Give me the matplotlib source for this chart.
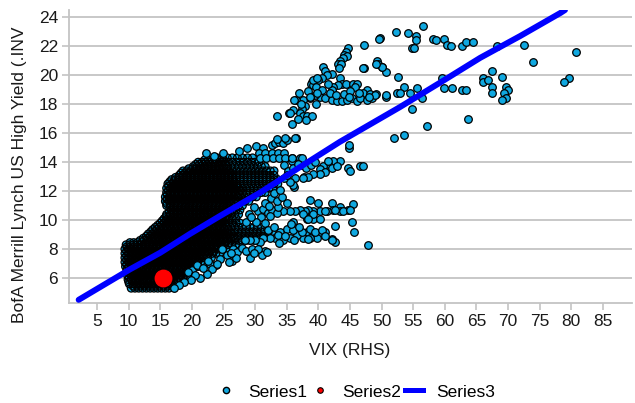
import matplotlib
matplotlib.use("Agg")
import matplotlib.pyplot as plt
from matplotlib.lines import Line2D

plt.rcParams['font.family'] = ['Liberation Sans', 'DejaVu Sans']

# ---- data ----
# dense core of Series1: one y level per row, x values along that row
dense_y = [5.3, 5.6, 5.9, 6.2, 6.5, 6.8, 7.1, 7.4, 7.7, 8.0, 8.3, 8.6, 8.9, 9.2, 9.5,
           9.8, 10.1, 10.4, 10.7, 11.0, 11.3, 11.6, 11.9, 12.2, 12.5, 12.8, 13.1,
           13.4, 13.7, 14.0, 14.3]
dense_x = [
    "10.4 11.0 11.6 12.2 12.8 13.4 14.0 14.6 15.2 15.8 16.4",
    "10.1 10.7 11.3 11.9 12.5 13.1 13.7 14.3 14.9 15.5 16.1 16.7 17.3",
    "9.9 10.4 11.0 11.6 12.2 12.8 13.4 14.0 14.6 15.2 15.8 16.4 17.0 17.6 18.2",
    "9.8 10.4 11.0 11.6 12.2 12.8 13.4 14.0 14.6 15.2 15.8 16.4 17.0 17.6 18.2 18.8 19.3",
    "9.7 10.2 10.8 11.4 12.0 12.6 13.2 13.8 14.4 15.0 15.6 16.2 16.8 17.4 18.0 18.6 19.2 19.8",
    "9.5 10.0 10.6 11.2 11.8 12.4 13.0 13.6 14.2 14.8 15.4 16.0 16.6 17.2 17.8 18.4 19.0 19.6 20.2 20.8",
    "9.4 10.0 10.6 11.2 11.8 12.4 13.0 13.6 14.2 14.8 15.4 16.0 16.6 17.2 17.8 18.4 19.0 19.6 20.2 20.8 21.4 22.0",
    "9.4 9.9 10.5 11.1 11.7 12.3 12.9 13.5 14.1 14.7 15.3 15.9 16.5 17.1 17.7 18.3 18.9 19.5 20.1 20.7 21.3 21.9 22.5 23.1",
    "9.4 10.0 10.6 11.2 11.8 12.4 13.0 13.6 14.2 14.8 15.4 16.0 16.6 17.2 17.8 18.4 19.0 19.6 20.2 20.8 21.4 22.0 22.6 23.2 23.8 24.4",
    "9.4 9.9 10.5 11.1 11.7 12.3 12.9 13.5 14.1 14.7 15.3 15.9 16.5 17.1 17.7 18.3 18.9 19.5 20.1 20.7 21.3 21.9 22.5 23.1 23.7 24.3 24.9 25.5",
    "9.6 10.2 10.8 11.4 12.0 12.6 13.2 13.8 14.4 14.9 15.5 16.1 16.7 17.3 17.9 18.5 19.1 19.7 20.3 20.9 21.5 22.1 22.7 23.3 23.9 24.5 25.1 25.7 26.3 26.9 27.5",
    "11.8 12.4 13.0 13.6 14.2 14.8 15.4 16.0 16.6 17.2 17.8 18.4 19.0 19.6 20.2 20.8 21.4 22.0 22.6 23.2 23.8 24.4 25.0 25.6 26.2 26.8 27.4 28.0 28.6 29.2 29.8 30.4",
    "12.8 13.4 14.0 14.6 15.2 15.8 16.4 17.0 17.6 18.2 18.8 19.4 20.0 20.6 21.2 21.8 22.4 23.0 23.6 24.2 24.8 25.4 26.0 26.6 27.2 27.8 28.4 29.0 29.6 30.2 30.8 31.4 32.0",
    "13.5 14.1 14.7 15.3 15.9 16.5 17.1 17.7 18.3 18.9 19.5 20.1 20.7 21.3 21.9 22.5 23.1 23.7 24.3 24.9 25.5 26.1 26.7 27.3 27.9 28.5 29.1 29.7 30.3 30.9 31.5 32.1 32.7",
    "14.2 14.8 15.4 16.0 16.6 17.2 17.8 18.4 19.0 19.6 20.2 20.8 21.4 22.0 22.6 23.2 23.8 24.4 25.0 25.6 26.2 26.8 27.4 28.0 28.6 29.2 29.8 30.4 31.0",
    "15.0 15.6 16.2 16.8 17.4 18.0 18.6 19.2 19.8 20.4 21.0 21.6 22.2 22.8 23.4 24.0 24.6 25.2 25.8 26.4 27.0 27.6",
    "15.6 16.2 16.8 17.4 18.0 18.6 19.2 19.8 20.4 21.0 21.6 22.2 22.8 23.4 24.0 24.6 25.2 25.8 26.4 27.0",
    "16.0 16.6 17.2 17.8 18.4 19.0 19.6 20.2 20.8 21.4 22.0 22.6 23.2 23.8 24.4 25.0 25.6 26.2 26.8 27.4",
    "16.8 17.4 18.0 18.6 19.2 19.8 20.4 21.0 21.6 22.2 22.8 23.4 24.0 24.6 25.2 25.8 26.4 27.0 27.6",
    "16.0 16.6 17.2 17.8 18.4 19.0 19.6 20.2 20.8 21.4 22.0 22.6 23.2 23.8 24.4 25.0 25.6 26.2 26.8 27.4 28.0",
    "15.8 16.4 17.0 17.6 18.2 18.8 19.4 20.0 20.6 21.2 21.8 22.4 23.0 23.6 24.2 24.8 25.4 26.0 26.6 27.2 27.8 28.4 29.0",
    "15.8 16.4 17.0 17.6 18.2 18.8 19.4 20.0 20.6 21.2 21.8 22.4 23.0 23.6 24.2 24.8 25.4 26.0 26.6 27.2 27.8 28.4 29.0 29.6 30.2",
    "16.0 16.6 17.2 17.8 18.4 19.0 19.6 20.2 20.8 21.4 22.0 22.6 23.2 23.8 24.4 25.0 25.6 26.2 26.8 27.4 28.0 28.6 29.2 29.8 30.4 31.0 31.6",
    "16.0 16.6 17.2 17.8 18.4 19.0 19.6 20.2 20.8 21.4 22.0 22.6 23.2 23.8 24.4 25.0 25.6 26.2 26.8 27.4 28.0 28.6 29.2 29.8 30.4 31.0 31.6 32.2 32.8",
    "16.2 16.8 17.4 18.0 18.6 19.2 19.8 20.4 21.0 21.6 22.2 22.8 23.4 24.0 24.6 25.2 25.8 26.4 27.0 27.6 28.2 28.8 29.4 30.0 30.6 31.2 31.8 32.4 33.0 33.6",
    "16.8 17.4 18.0 18.6 19.2 19.8 20.4 21.0 21.6 22.2 22.8 23.4 24.0 24.6 25.2 25.8 26.4 27.0 27.6 28.2 28.8 29.4 30.0 30.6 31.2 31.8 32.4 33.0 33.6",
    "18.0 18.6 19.2 19.8 20.4 21.0 21.6 22.2 22.8 23.4 24.0 24.6 25.2 25.8 26.4 27.0 27.6 28.2 28.8 29.4 30.0 30.6 31.2 31.8 32.4 33.0",
    "18.6 19.2 19.8 20.4 21.0 21.6 22.2 22.8 23.4 24.0 24.6 25.2 25.8 26.4 27.0 27.6 28.2 28.8 29.4 30.0 30.6 31.2 31.8 32.4 33.0",
    "20.2 20.8 21.4 22.0 22.6 23.2 23.8 24.4 25.0 25.6 26.2 26.8 27.4 28.0 28.6 29.2 29.8 30.4 31.0 31.6",
    "21.0 21.6 22.2 22.8 23.4 24.0 24.6 25.2 25.8 26.4 27.0 27.6 28.2 28.8 29.4 30.0 30.6",
    "24.0 24.8 25.6 26.4 27.2 28.0 28.8 29.6",
]

# in-between rows of the dense core (the cloud is packed tighter on its left side)
mid_y = [5.45, 5.75, 6.05, 6.35, 6.65, 6.95, 7.25, 7.55, 7.85, 8.15, 8.45, 8.75, 9.05,
         9.35, 9.65, 9.95, 10.25, 10.55, 10.85, 11.15, 11.45, 11.75, 12.05, 12.35,
         12.65, 12.95, 13.25, 13.55, 13.85, 14.15]
mid_x = [
    "10.7 11.3 11.9 12.5 13.1 13.7 14.3 14.9 15.5 16.1 16.7",
    "10.0 10.6 11.2 11.8 12.4 13.0 13.6 14.2 14.8 15.4 16.0 16.6 17.2 17.8",
    "10.1 10.7 11.3 11.9 12.5 13.1 13.7 14.3 14.9 15.5 16.1 16.7 17.3 17.9 18.5",
    "10.0 10.6 11.2 11.8 12.4 13.0 13.6 14.2 14.8 15.4 16.0 16.6 17.2 17.8 18.4 19.0",
    "9.8 10.4 11.0 11.6 12.2 12.8 13.4 14.0 14.6 15.2 15.8 16.4 17.0 17.6 18.2 18.8 19.4 20.0",
    "9.7 10.3 10.9 11.5 12.1 12.7 13.3 13.9 14.5 15.1 15.7 16.3 16.9 17.5 18.1 18.7 19.3 19.9 20.5",
    "9.7 10.3 10.9 11.5 12.1 12.7 13.3 13.9 14.5 15.1 15.7 16.3 16.9 17.5 18.1 18.7 19.3 19.9 20.5 21.1",
    "9.7 10.3 10.9 11.5 12.1 12.7 13.3 13.9 14.5 15.1 15.7 16.3 16.9 17.5 18.1 18.7 19.3 19.9 20.5 21.1 21.7 22.3",
    "9.7 10.3 10.9 11.5 12.1 12.7 13.3 13.9 14.5 15.1 15.7 16.3 16.9 17.5 18.1 18.7 19.3 19.9 20.5 21.1 21.7 22.3 22.9 23.5",
    "9.7 10.3 10.9 11.5 12.1 12.7 13.3 13.9 14.5 15.1 15.7 16.3 16.9 17.5 18.1 18.7 19.3 19.9 20.5 21.1 21.7 22.3 22.9 23.5 24.1 24.7",
    "10.2 10.8 11.4 12.1 12.7 13.3 13.9 14.5 15.1 15.7 16.3 16.9 17.5 18.1 18.7 19.3 19.9 20.5 21.1 21.7 22.3 22.9 23.5 24.1 24.7 25.3 25.9",
    "12.3 12.9 13.5 14.1 14.7 15.3 15.9 16.5 17.1 17.7 18.3 18.9 19.5 20.1 20.7 21.3 21.9 22.5 23.1 23.7 24.3 24.9 25.5 26.1 26.7",
    "13.1 13.7 14.3 14.9 15.5 16.1 16.7 17.3 17.9 18.5 19.1 19.7 20.3 20.9 21.5 22.1 22.7 23.3 23.9 24.5 25.1 25.7 26.3",
    "13.8 14.4 15.0 15.6 16.2 16.8 17.4 18.0 18.6 19.2 19.8 20.4 21.0 21.6 22.2 22.8 23.4 24.0 24.6 25.2 25.8",
    "14.6 15.2 15.8 16.4 17.0 17.6 18.2 18.8 19.4 20.0 20.6 21.2 21.8 22.4 23.0 23.6 24.2 24.8 25.4",
    "15.3 15.9 16.5 17.1 17.7 18.3 18.9 19.5 20.1 20.7 21.3 21.9 22.5 23.1 23.7 24.3 24.9",
    "15.9 16.5 17.1 17.7 18.3 18.9 19.5 20.1 20.7 21.3 21.9 22.5 23.1 23.7 24.3 24.9 25.5",
    "16.4 17.0 17.6 18.2 18.8 19.4 20.0 20.6 21.2 21.8 22.4 23.0 23.6 24.2 24.8 25.4 26.0",
    "16.5 17.1 17.7 18.3 18.9 19.5 20.1 20.7 21.3 21.9 22.5 23.1 23.7 24.3 24.9 25.5 26.1",
    "16.0 16.6 17.2 17.8 18.4 19.0 19.6 20.2 20.8 21.4 22.0 22.6 23.2 23.8 24.4 25.0 25.6 26.2",
    "16.1 16.7 17.3 17.9 18.5 19.1 19.7 20.3 20.9 21.5 22.1 22.7 23.3 23.9 24.5 25.1 25.7 26.3 26.9",
    "16.1 16.7 17.3 17.9 18.5 19.1 19.7 20.3 20.9 21.5 22.1 22.7 23.3 23.9 24.5 25.1 25.7 26.3 26.9 27.5",
    "16.3 16.9 17.5 18.1 18.7 19.3 19.9 20.5 21.1 21.7 22.3 22.9 23.5 24.1 24.7 25.3 25.9 26.5 27.1 27.7",
    "16.3 16.9 17.5 18.1 18.7 19.3 19.9 20.5 21.1 21.7 22.3 22.9 23.5 24.1 24.7 25.3 25.9 26.5 27.1",
    "16.5 17.1 17.7 18.3 18.9 19.5 20.1 20.7 21.3 21.9 22.5 23.1 23.7 24.3 24.9 25.5 26.1 26.7",
    "17.4 18.0 18.6 19.2 19.8 20.4 21.0 21.6 22.2 22.8 23.4 24.0 24.6 25.2 25.8 26.4",
    "18.3 18.9 19.5 20.1 20.7 21.3 21.9 22.5 23.1 23.7 24.3 24.9 25.5 26.1",
    "19.5 20.1 20.7 21.3 21.9 22.5 23.1 23.7 24.3 24.9 25.5",
    "20.6 21.2 21.8 22.4 23.0 23.6 24.2 24.8 25.4",
    "22.0 22.6 23.2 23.8 24.4 25.0",
]

# scattered Series1 points (VIX, HY yield)
sparse_pts = [
    # top fringe of the main cloud
    (22.2, 14.6), (23.5, 14.4), (24.9, 14.6), (27.5, 14.8), (28.7, 15.0), (30.2, 15.1),
    (31.3, 15.0), (32.7, 15.2), (33.2, 15.3), (33.8, 15.4), (34.4, 15.3), (35.1, 15.5),
    (36.5, 15.7), (33.5, 15.6), (34.7, 15.7), (36.3, 15.7), (30.6, 14.6), (31.6, 14.6),
    (32.6, 14.6), (33.6, 14.6), (34.6, 14.6), (30.8, 14.3), (31.8, 14.3), (32.8, 14.3),
    (33.8, 14.3), (34.8, 14.3), (35.8, 14.3), (37.1, 14.3), (35.9, 14.1), (37.4, 13.8),
    (37.8, 13.0), (36.2, 12.3),
    # band 12.4-14.1 beyond VIX 34
    (43.4, 14.1), (42.3, 14.1), (41.5, 13.9), (40.8, 13.7), (40.3, 13.5), (41.1, 13.3),
    (42.2, 13.6), (43.0, 13.7), (40.3, 13.2), (39.2, 13.2), (38.4, 13.0), (37.6, 12.9),
    (36.3, 12.9), (36.0, 12.4), (35.5, 12.6), (37.4, 14.3), (35.9, 14.3), (44.7, 13.6),
    (45.0, 13.4), (46.6, 13.7), (44.9, 15.0), (44.9, 15.2), (41.5, 14.1), (34.6, 13.8),
    (35.2, 13.4), (36.0, 13.6), (36.8, 13.9), (38.0, 13.6), (38.8, 13.8), (39.5, 14.0),
    (34.5, 12.9), (35.0, 13.1), (47.1, 13.7),
    # band around 10.5-11
    (38.7, 11.4), (40.0, 11.2), (42.2, 11.2), (43.4, 10.9), (44.7, 10.7), (45.5, 11.1),
    (43.4, 10.6), (42.3, 10.7), (41.4, 10.6), (40.3, 10.6), (39.2, 10.6), (38.4, 10.7),
    (37.9, 10.6), (37.1, 10.7), (36.3, 10.6), (35.5, 10.6), (34.4, 10.6), (38.2, 10.1),
    (39.2, 10.1), (40.3, 10.1), (36.0, 9.9), (45.3, 9.9), (42.7, 9.6), (45.7, 9.2),
    (37.6, 10.4), (39.2, 10.4), (38.4, 10.1), (43.9, 10.6), (42.7, 10.7), (41.1, 10.6),
    (45.0, 10.7), (30.5, 10.6), (31.3, 10.8), (32.0, 10.5), (32.7, 10.7), (33.4, 10.5),
    (31.0, 10.2), (32.4, 10.3), (33.6, 10.9), (29.8, 10.9), (29.0, 10.4), (30.2, 9.9),
    (31.6, 9.8), (28.6, 9.9), (29.4, 10.2), (32.5, 11.5), (33.5, 11.3), (34.3, 11.6),
    (35.0, 11.2), (33.0, 11.9), (34.0, 12.1), (31.5, 11.2), (32.2, 11.0),
    # band around 8.5-9.5
    (38.2, 9.2), (39.2, 9.2), (40.3, 9.1), (41.1, 9.2), (42.2, 8.7), (42.7, 8.5),
    (39.8, 8.8), (38.7, 8.8), (37.6, 8.8), (36.6, 9.0), (35.5, 8.8), (34.4, 8.6),
    (33.2, 8.8), (32.4, 8.8), (31.3, 8.8), (30.8, 8.5), (30.0, 8.6), (29.2, 8.6),
    (28.4, 8.6), (38.7, 9.4), (37.4, 9.2), (39.5, 9.2), (40.6, 9.3), (41.1, 8.9),
    (38.4, 8.7), (42.2, 8.6), (47.9, 8.3), (32.0, 9.3), (33.0, 9.5), (34.0, 9.2),
    (35.0, 9.4), (36.0, 9.3), (33.6, 9.0), (34.8, 8.9), (36.2, 8.6), (37.0, 9.5),
    (35.6, 9.7), (33.8, 8.4),
    # below the main cloud
    (31.6, 7.9), (31.1, 7.6), (29.2, 7.4), (31.9, 7.8), (26.4, 7.2), (25.5, 7.6),
    (24.5, 7.3), (23.8, 6.9), (22.9, 7.0), (23.2, 6.6), (22.4, 6.3), (21.3, 6.0),
    (20.0, 6.55), (19.4, 6.4), (21.0, 6.8), (24.8, 8.0), (26.5, 8.0), (27.2, 7.8),
    (28.0, 8.1), (27.0, 7.4), (25.8, 7.1), (26.2, 7.7), (24.0, 7.0), (28.6, 7.9),
    (29.5, 8.0), (30.5, 8.0), (29.8, 7.7), (20.8, 6.9), (21.8, 6.7), (22.5, 7.2),
    (20.5, 6.2), (19.8, 5.9), (18.8, 5.7), (17.9, 5.5), (17.2, 5.3),
    # high-yield cluster, VIX 33-53
    (49.8, 22.6), (47.2, 22.1), (44.7, 21.9), (44.4, 21.6), (44.1, 21.4), (44.6, 21.3),
    (43.9, 21.2), (43.4, 21.0), (43.1, 20.8), (43.6, 20.8), (43.3, 20.5), (47.2, 20.5),
    (40.8, 20.6), (41.1, 20.3), (42.2, 20.1), (41.4, 20.0), (40.6, 19.8), (40.0, 19.7),
    (39.0, 19.5), (38.9, 19.4), (39.2, 19.3), (43.4, 19.8), (43.8, 19.4), (43.1, 19.3),
    (42.3, 19.2), (42.2, 19.0), (44.4, 19.4), (45.5, 19.4), (46.1, 19.4), (45.8, 19.2),
    (47.7, 19.0), (47.1, 18.8), (48.2, 18.7), (49.1, 18.7), (50.7, 18.5), (49.3, 21.0),
    (49.5, 20.8), (50.1, 20.6), (50.7, 20.2), (52.6, 19.9), (52.5, 18.8), (40.3, 18.5),
    (41.1, 18.4), (42.2, 18.3), (43.0, 18.2), (43.8, 18.2), (44.6, 18.3), (45.3, 18.4),
    (46.1, 18.2), (46.6, 18.4), (47.7, 18.3), (48.5, 18.4), (49.0, 18.6), (39.5, 18.6),
    (38.7, 18.4), (37.6, 18.3), (36.5, 18.3), (37.9, 17.9), (37.4, 17.7), (36.0, 17.6),
    (35.4, 17.4), (37.1, 17.4), (37.6, 17.2), (36.8, 17.0), (38.2, 17.2), (39.0, 17.2),
    (33.5, 17.2), (35.9, 16.6), (36.2, 18.3), (35.5, 17.4), (39.2, 19.7), (39.8, 19.8),
    (39.6, 19.2), (41.8, 18.8), (42.8, 18.6), (44.0, 18.7), (45.0, 18.9), (46.5, 18.8),
    (40.5, 19.0), (38.3, 18.9), (37.0, 18.8), (41.6, 19.4), (44.9, 18.5), (48.0, 18.5),
    (39.6, 18.0), (38.7, 18.5), (39.8, 18.8), (37.3, 18.0), (38.0, 16.9),
    # spread cluster, VIX 47-81
    (56.6, 23.4), (52.3, 23.0), (54.2, 22.9), (55.5, 22.7), (55.5, 22.4), (54.8, 21.9),
    (55.2, 21.9), (49.6, 22.5), (58.2, 22.5), (58.6, 22.4), (59.9, 22.5), (60.4, 22.1),
    (60.9, 22.0), (62.7, 22.0), (63.4, 22.3), (64.5, 22.3), (68.3, 22.0), (72.6, 22.1),
    (74.0, 20.9), (80.8, 21.6), (79.7, 19.8), (78.9, 19.5), (67.5, 20.3), (69.1, 19.9),
    (66.1, 19.8), (66.1, 19.5), (66.9, 19.7), (67.5, 19.2), (67.5, 18.8), (69.7, 19.2),
    (70.0, 19.0), (69.4, 18.8), (69.7, 18.4), (69.1, 18.3), (59.6, 19.8), (59.9, 19.1),
    (61.2, 19.1), (62.7, 19.0), (63.4, 19.0), (63.7, 17.0), (57.2, 16.5), (54.8, 17.7),
    (56.4, 18.4), (55.6, 19.1), (54.5, 18.8), (53.6, 19.2), (52.9, 18.8), (50.1, 20.6),
    (49.1, 20.8), (47.1, 20.5), (50.7, 18.6), (52.0, 15.7), (53.6, 15.9),
]

# Series2: single highlighted point
s2_x = [15.5]
s2_y = [6.0]

# Series3: thick trend line
s3_x = [2.1, 10.2, 15.0, 19.7, 24.5, 30.8, 37.1, 43.4, 52.9, 59.3, 65.6, 71.9, 78.3, 79.0]
s3_y = [4.5, 6.6, 7.75, 9.05, 10.3, 11.9, 13.66, 15.4, 17.8, 19.5, 21.2, 22.7, 24.3, 24.5]

x_ticks = list(range(5, 90, 5))
y_ticks = list(range(6, 26, 2))

# ---- build series1 ----
core_x, core_y = [], []
for yv, row in list(zip(dense_y, dense_x)) + list(zip(mid_y, mid_x)):
    for xv in row.split():
        core_x.append(float(xv))
        core_y.append(yv)
sp_x = [p[0] for p in sparse_pts]
sp_y = [p[1] for p in sparse_pts]

cyan = '#10A8E0'
grey = '#C4C4C4'

fig = plt.figure(figsize=(6.35, 4.03), dpi=100)
ax = fig.add_axes([69 / 635, 100 / 403, 563 / 635, 293 / 403])

# packed core: fills first, outlines over them (thousands of overlapping points look black)
ax.scatter(core_x, core_y, s=30, facecolor=cyan, edgecolor='none', zorder=2)
ax.scatter(core_x, core_y, s=30, facecolor='none', edgecolor='black', linewidths=0.9, zorder=2.1)
ax.scatter(sp_x, sp_y, s=30, facecolor=cyan, edgecolor='black', linewidths=0.9, zorder=2.2)
ax.plot(s3_x, s3_y, color='#0000FF', lw=4.3, solid_capstyle='round', zorder=3)
ax.scatter(s2_x, s2_y, s=140, color='#FF0000', zorder=4)

ax.set_xlim(0.57, 89.6)
ax.set_ylim(4.28, 24.5)
ax.set_xticks(x_ticks)
ax.set_yticks(y_ticks)

ax.grid(axis='y', color=grey, lw=1.3, zorder=0)
ax.set_axisbelow(True)
for side in ['top', 'right']:
    ax.spines[side].set_visible(False)
for side in ['left', 'bottom']:
    ax.spines[side].set_color(grey)
    ax.spines[side].set_linewidth(1.3)

ax.tick_params(axis='x', length=5, width=1.2, color=grey, pad=3, labelsize=12.5, labelcolor='#1a1a1a')
ax.tick_params(axis='y', length=5, width=1.2, color=grey, pad=3, labelsize=12.5, labelcolor='#1a1a1a')

fig.text(350 / 635, 1 - 351 / 403, 'VIX (RHS)', ha='center', va='center', fontsize=12.5, color='#1a1a1a')
fig.text(20 / 635, 1 - 323 / 403, 'BofA Merrill Lynch US High Yield (.INV', rotation=90,
         ha='center', va='bottom', fontsize=12.5, color='#1a1a1a')

handles = [
    Line2D([], [], marker='o', ls='', mfc=cyan, mec='black', ms=4.5, mew=1.0),
    Line2D([], [], marker='o', ls='', mfc='#FF0000', mec='black', ms=4.0, mew=0.8),
    Line2D([], [], color='#0000FF', lw=3.6),
]
fig.legend(handles, ['Series1', 'Series2', 'Series3'], loc='center',
           bbox_to_anchor=(356 / 635, 1 - 392 / 403), ncol=3, frameon=False,
           fontsize=12.5, handlelength=1.05, handletextpad=0.75, columnspacing=0.2,
           borderpad=0)

fig.savefig('out.png', dpi=100)
